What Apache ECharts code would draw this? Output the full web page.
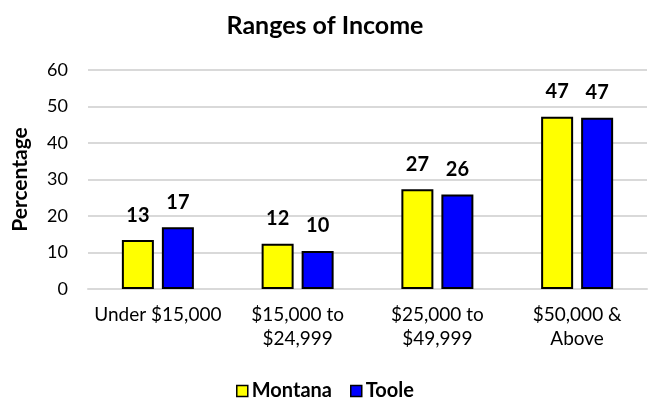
<!DOCTYPE html>
<html>
<head>
<meta charset="utf-8">
<script src="https://cdn.jsdelivr.net/npm/echarts@6/dist/echarts.min.js"></script>
<style>
  html, body { margin: 0; padding: 0; background: #fff; }
  #chart { width: 650px; height: 402px; }
</style>
</head>
<body>
<div id="chart"></div>
<script>
// data
var categories = ['Under $15,000', '$15,000 to\n$24,999', '$25,000 to\n$49,999', '$50,000 &\nAbove']
var montana = [13.4, 12.4, 27.3, 47.2]
var toole = [16.9, 10.4, 25.9, 46.9]

var font = 'Lato, "Open Sans", sans-serif'

var chart = echarts.init(document.getElementById('chart'))

function barSeries (name, data, color) {
  return {
    name: name,
    type: 'bar',
    data: data,
    barWidth: 32,
    barGap: '25%',
    itemStyle: { color: color, borderColor: '#000', borderWidth: 2 },
    label: {
      show: true,
      position: 'top',
      distance: 15,
      fontFamily: font,
      fontWeight: 'bold',
      fontSize: 20,
      color: '#000',
      formatter: function (p) { return Math.round(p.value) }
    }
  }
}

chart.setOption({
  animation: false,
  title: {
    text: 'Ranges of Income',
    left: 'center',
    top: 8,
    textStyle: { fontFamily: font, fontWeight: 'bold', fontSize: 25, color: '#000' }
  },
  legend: {
    bottom: 0,
    padding: [0, 5, 1, 5],
    left: 'center',
    itemWidth: 11,
    itemHeight: 11,
    itemGap: 18,
    icon: 'rect',
    itemStyle: { borderColor: '#000', borderWidth: 1.5 },
    textStyle: { fontFamily: font, fontWeight: 'bold', fontSize: 20, color: '#000', padding: [0, 0, 0, -1] },
    data: ['Montana', 'Toole']
  },
  grid: { left: 88, right: 3, top: 70, bottom: 113 },
  xAxis: {
    type: 'category',
    data: categories,
    axisLine: { lineStyle: { color: '#d9d9d9', width: 2 } },
    axisTick: { show: false },
    axisLabel: { interval: 0, fontFamily: font, fontSize: 19, color: '#000', margin: 14, lineHeight: 24 }
  },
  yAxis: {
    type: 'value',
    min: 0,
    max: 60,
    interval: 10,
    name: 'Percentage',
    nameLocation: 'middle',
    nameGap: 57,
    nameTextStyle: { fontFamily: font, fontWeight: 'bold', fontSize: 21, color: '#000' },
    axisLine: { show: false },
    axisTick: { show: false },
    axisLabel: { fontFamily: font, fontSize: 18, color: '#000', margin: 20 },
    splitLine: { lineStyle: { color: '#d9d9d9', width: 2 } }
  },
  series: [
    barSeries('Montana', montana, '#ffff00'),
    barSeries('Toole', toole, '#0000ff')
  ]
})
</script>
</body>
</html>
